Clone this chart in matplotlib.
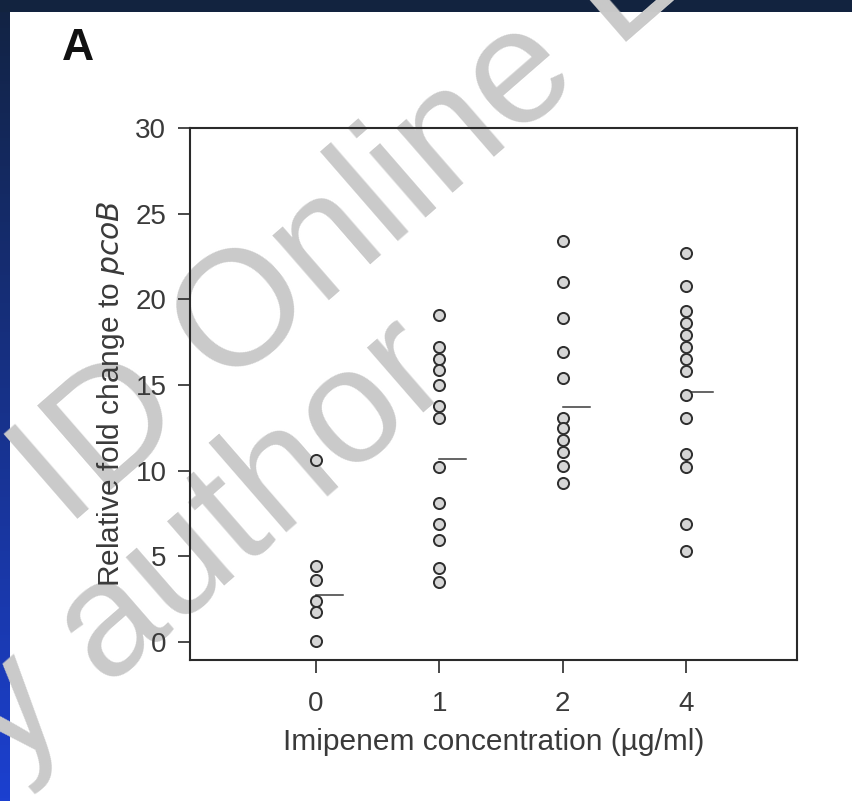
import numpy as np
import matplotlib.pyplot as plt
from matplotlib.patches import Rectangle

plt.rcParams['font.family'] = ['Liberation Sans', 'DejaVu Sans']

# fold change of pcoB per imipenem dose
doses = ['0', '1', '2', '4']
g0 = [10.6, 4.45, 3.6, 2.4, 1.75, 0.05]
g1 = [19.1, 17.2, 16.5, 15.9, 15.0, 13.8, 13.1, 10.2, 8.1, 6.9, 5.95, 4.3, 3.5]
g2 = [23.4, 21.0, 18.9, 16.9, 15.4, 13.1, 12.5, 11.8, 11.1, 10.3, 9.3]
g4 = [22.7, 20.8, 19.3, 18.6, 17.9, 17.2, 16.5, 15.8, 14.4, 13.1, 11.0, 10.2, 6.9, 5.3]
medians = [2.75, 10.7, 13.7, 14.6]
yticks = [0, 5, 10, 15, 20, 25, 30]

W, H = 853, 801
fig = plt.figure(figsize=(W / 100, H / 100), dpi=100, facecolor='white')

# frame: dark band on top, blue gradient strip on the left, watermark
bg = fig.add_axes([0, 0, 1, 1], zorder=-10)
bg.add_patch(Rectangle((0, 0), W, 12, color='#12233f', lw=0))
grad = np.linspace(0, 1, 256).reshape(-1, 1)
top_c = np.array([0x12, 0x23, 0x42]) / 255
bot_c = np.array([0x1c, 0x40, 0xd0]) / 255
strip = top_c + grad[..., None] * (bot_c - top_c)
bg.imshow(strip, extent=(0, 10, H, 0), aspect='auto')
bg.set_xlim(0, W)
bg.set_ylim(H, 0)
bg.axis('off')
wm = dict(rotation=41, rotation_mode='anchor', ha='left', va='baseline',
          fontsize=118, color='#cacaca', clip_on=False)
bg.text(67, 528, 'ID Online Le', **wm)
bg.text(10, 772, 'y author', **wm)
bg.text(62, 60, 'A', fontsize=32, fontweight='bold', color='#111111')

ax = fig.add_axes([190 / W, 1 - 660 / H, 607 / W, 532 / H], zorder=1)
ax.patch.set_alpha(0)

for i, vals in enumerate([g0, g1, g2, g4]):
    ax.plot([i] * len(vals), vals, 'o', ms=8, mfc='#d6d6d6', mec='#2e2e2e',
            mew=1.4, zorder=3)
    ax.plot([i, i + 0.22], [medians[i], medians[i]], color='#3a3a3a', lw=1.1,
            zorder=2)

ax.set_xlim(-1.02, 3.9)
ax.set_ylim(-1.05, 30)
ax.set_xticks(range(len(doses)))
ax.set_xticklabels(doses)
ax.set_yticks(yticks)
for s in ax.spines.values():
    s.set_color('#2a2a2a')
    s.set_linewidth(1.5)
ax.tick_params(direction='out', width=1.2, color='#2a2a2a',
               labelsize=20, labelcolor='#3a3a3a')
ax.tick_params(axis='x', length=9.5, pad=13)
ax.tick_params(axis='y', length=9, pad=8)
ax.set_xlabel('Imipenem concentration (\u00b5g/ml)', fontsize=21.5,
              color='#3a3a3a', labelpad=8)
ax.set_ylabel('Relative fold change to $\\it{pcoB}$', fontsize=21.5,
              color='#3a3a3a', labelpad=6)

fig.savefig('out.png', dpi=100, facecolor='white')
